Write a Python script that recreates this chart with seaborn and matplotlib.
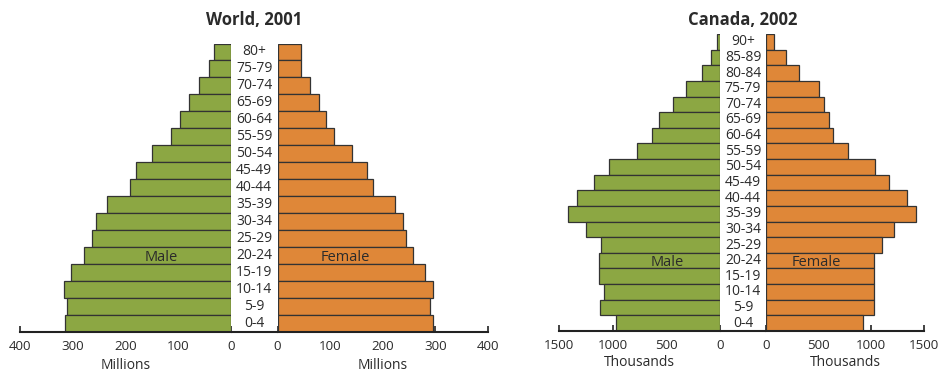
import numpy as np
import pandas as pd
import matplotlib
matplotlib.use("Agg")
import matplotlib.pyplot as plt
import seaborn as sns

sns.set_theme(style="white")
plt.rcParams['font.family'] = ['Open Sans', 'DejaVu Sans']

# ---- data ----
world_ages = ["80+", "75-79", "70-74", "65-69", "60-64", "55-59", "50-54", "45-49",
              "40-44", "35-39", "30-34", "25-29", "20-24", "15-19", "10-14", "5-9", "0-4"]
world_male = [33, 41, 60, 79, 97, 114, 150, 180, 192, 235, 256, 263, 279, 303, 317, 310, 315]
world_female = [44, 45, 62, 78, 93, 108, 142, 170, 182, 224, 239, 244, 257, 281, 295, 290, 296]

canada_ages = ["90+", "85-89", "80-84", "75-79", "70-74", "65-69", "60-64", "55-59",
               "50-54", "45-49", "40-44", "35-39", "30-34", "25-29", "20-24", "15-19",
               "10-14", "5-9", "0-4"]
canada_male = [28, 84, 171, 321, 436, 570, 629, 769, 1037, 1174, 1336, 1417, 1252,
               1106, 1128, 1125, 1084, 1121, 969]
canada_female = [78, 191, 310, 507, 547, 594, 638, 779, 1032, 1170, 1335, 1423, 1213,
                 1098, 1026, 1023, 1023, 1029, 922]

GREEN = "#8ca743"
ORANGE = "#df8738"
EDGE = "#333333"
TXT = "#2b2b2b"

W, H = 939, 373
fig = plt.figure(figsize=(W / 100, H / 100), dpi=100)


def px_axes(x0, x1, ytop, ybot):
    return fig.add_axes([x0 / W, 1 - ybot / H, (x1 - x0) / W, (ybot - ytop) / H])


def pyramid(ages, male, female, xmax, ticks, unit, title, box, labelpad):
    mx0, mx1, fx0, fx1, ytop, ybot = box
    df = pd.DataFrame({"age": ages, "male": male, "female": female})
    axm = px_axes(mx0, mx1, ytop, ybot)
    axf = px_axes(fx0, fx1, ytop, ybot)

    sns.barplot(data=df, x="male", y="age", ax=axm, color=GREEN, orient="h",
                width=1.0, edgecolor=EDGE, linewidth=0.9, saturation=1)
    sns.barplot(data=df, x="female", y="age", ax=axf, color=ORANGE, orient="h",
                width=1.0, edgecolor=EDGE, linewidth=0.9, saturation=1)

    axm.set_xlim(xmax, 0)
    axf.set_xlim(0, xmax)
    for ax in (axm, axf):
        ax.set_ylim(len(ages) - 0.5, -0.5)
        for s in ("top", "right", "left"):
            ax.spines[s].set_visible(False)
        ax.spines["bottom"].set_color("#222222")
        ax.spines["bottom"].set_linewidth(1.5)
        ax.set_yticks([])
        ax.set_ylabel("")
        ax.set_xticks(ticks)
        ax.set_xticklabels([str(t) for t in ticks])
        ax.tick_params(axis="x", direction="in", length=4, width=1.2, color="#222222",
                       labelsize=9.6, labelcolor=TXT, pad=6, bottom=True)
        ax.set_xlabel(unit, fontsize=10, color=TXT, labelpad=labelpad)

    # axis line through the gap
    gap = (fx0 - mx1) / (mx1 - mx0)
    axm.plot([1, 1 + gap], [0, 0], transform=axm.transAxes, clip_on=False,
             color="#222222", lw=1.5)

    # age labels centred in the gap
    cx = -(fx0 - (mx1 + fx0) / 2) / (fx1 - fx0)
    for i, a in enumerate(ages):
        axf.text(cx, i, a, transform=axf.get_yaxis_transform(), ha="center",
                 va="center", fontsize=10, color=TXT)

    row = ages.index("20-24")
    axm.text(xmax * 0.33, row + 0.1, "Male", ha="center", va="center",
             fontsize=10.5, color=TXT)
    axf.text(xmax * 0.32, row + 0.1, "Female", ha="center", va="center",
             fontsize=10.5, color=TXT)

    fig.text((mx1 + fx0) / 2 / W, 1 - 20 / H, title, ha="center", va="center",
             fontsize=12, fontweight="bold", color=TXT)


pyramid(world_ages, world_male, world_female, 400, [0, 100, 200, 300, 400],
        "Millions", "World, 2001", (20, 231, 277.5, 488, 43.5, 332), 3.5)
pyramid(canada_ages, canada_male, canada_female, 1500, [0, 500, 1000, 1500],
        "Thousands", "Canada, 2002", (559, 720, 766, 924, 34, 331), 2)

fig.savefig("out.png", dpi=100)
